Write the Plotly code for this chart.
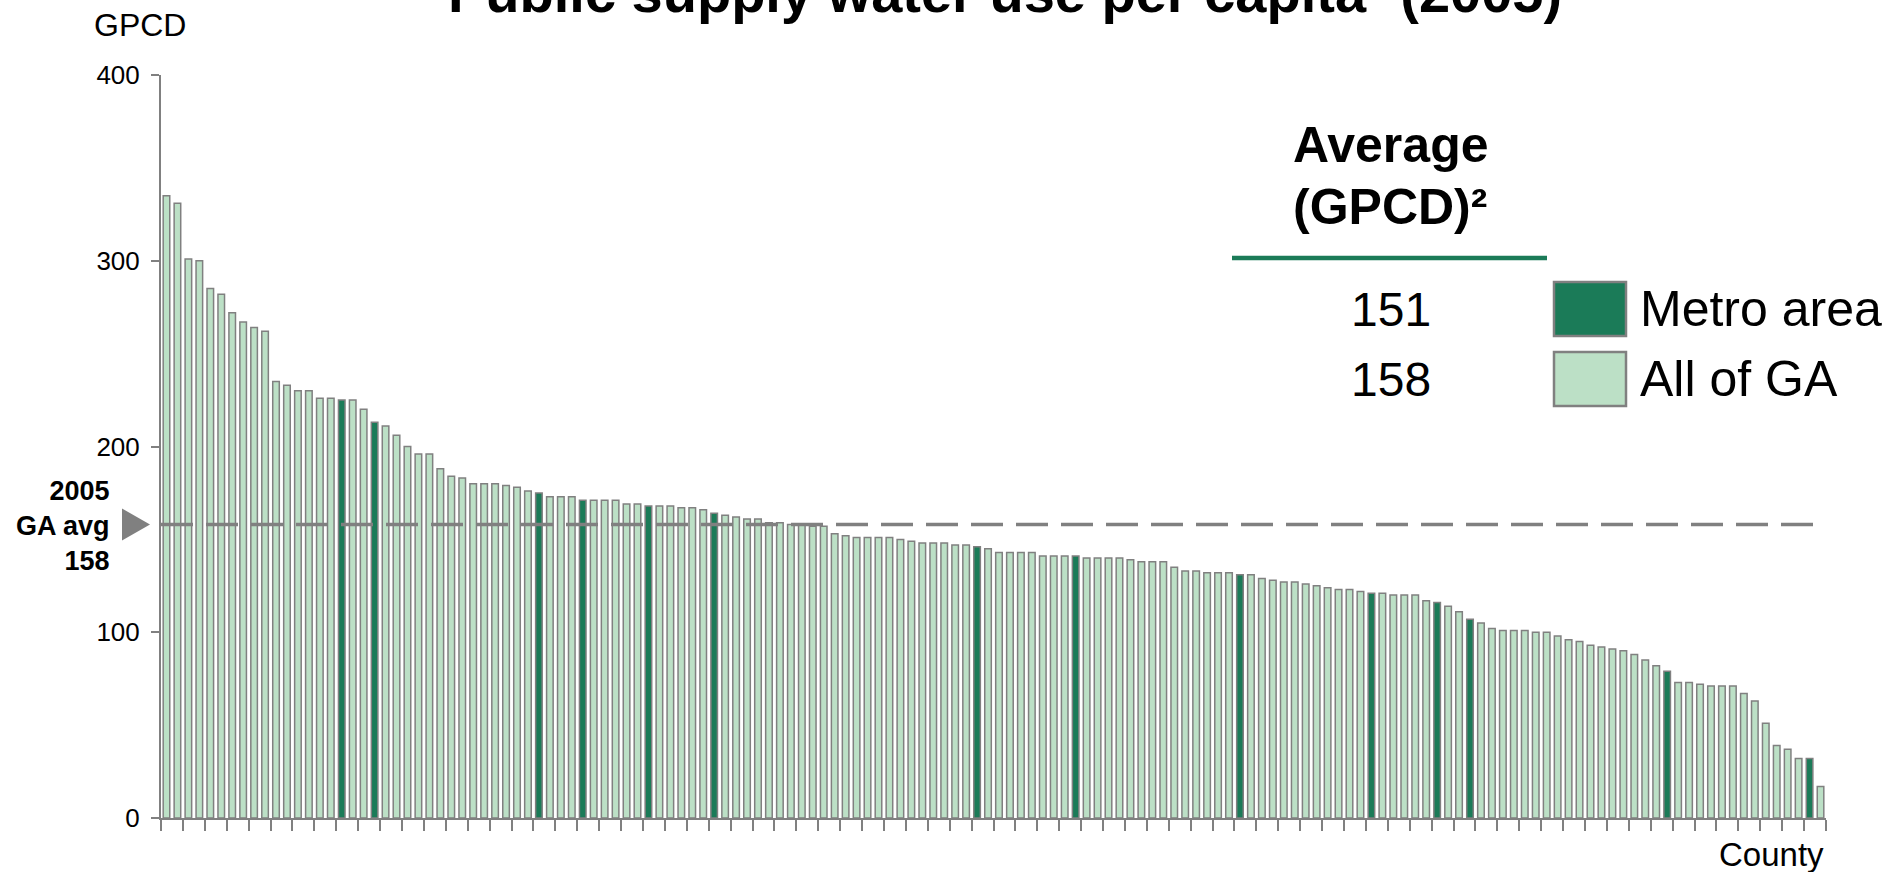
import plotly.graph_objects as go

# ---------------- data ----------------
gpcd = [335, 331, 301, 300, 285, 282, 272, 267, 264, 262,
        235, 233, 230, 230, 226, 226, 225, 225, 220, 213,
        211, 206, 200, 196, 196, 188, 184, 183, 180, 180,
        180, 179, 178, 176, 175, 173, 173, 173, 171, 171,
        171, 171, 169, 169, 168, 168, 168, 167, 167, 166,
        164, 163, 162, 161, 161, 159, 159, 158, 158, 157,
        157, 153, 152, 151, 151, 151, 151, 150, 149, 148,
        148, 148, 147, 147, 146, 145, 143, 143, 143, 143,
        141, 141, 141, 141, 140, 140, 140, 140, 139, 138,
        138, 138, 135, 133, 133, 132, 132, 132, 131, 131,
        129, 128, 127, 127, 126, 125, 124, 123, 123, 122,
        121, 121, 120, 120, 120, 117, 116, 114, 111, 107,
        105, 102, 101, 101, 101, 100, 100, 98, 96, 95,
        93, 92, 91, 90, 88, 85, 82, 79, 73, 73,
        72, 71, 71, 71, 67, 63, 51, 39, 37, 32,
        32, 17]
metro_ranks = [17, 20, 35, 39, 45, 51, 75, 84, 99, 111, 117, 120, 138, 151]
counties = [str(i) for i in range(1, len(gpcd) + 1)]
y_ticks = [0, 100, 200, 300, 400]
ga_avg = 158
metro_avg = 151
avg_values = [metro_avg, ga_avg]
legend_names = ["Metro area", "All of GA"]

# ---------------- style ----------------
W, H = 1900, 872
PL, PR, PT, PB = 161, 1826, 75, 818
LIGHT = "#BCE0C6"
DARK = "#1B7B58"
GRAY = "#808080"
FONT = "Liberation Sans, Arial, sans-serif"


def px(x):
    return (x - PL) / (PR - PL)


def py(y):
    return (PB - y) / (PB - PT)


colors = [DARK if (i + 1) in metro_ranks else LIGHT for i in range(len(gpcd))]

fig = go.Figure()
fig.add_trace(go.Bar(
    x=counties, y=gpcd,
    marker=dict(color=colors, line=dict(color=GRAY, width=1.5)),
    showlegend=False, hoverinfo="x+y",
))

fig.update_layout(
    width=W, height=H,
    margin=dict(l=PL, r=W - PR, t=PT, b=H - PB, pad=0),
    paper_bgcolor="white", plot_bgcolor="white",
    bargap=0.4,
    font=dict(family=FONT, color="black"),
    showlegend=False,
    xaxis=dict(
        type="category", range=[-0.5, len(gpcd) - 0.5],
        showline=True, linecolor=GRAY, linewidth=2,
        ticks="outside", tickson="boundaries", ticklen=11, tickwidth=1.5, tickcolor=GRAY,
        showticklabels=False, showgrid=False, zeroline=False,
    ),
    yaxis=dict(
        range=[0, 400], tickvals=y_ticks,
        showline=True, linecolor=GRAY, linewidth=2,
        ticks="outside", ticklen=8, tickwidth=1.5, tickcolor=GRAY,
        tickfont=dict(size=26, family=FONT, color="black"),
        ticklabelstandoff=6,
        showgrid=False, zeroline=False,
    ),
)

# average dashed line
fig.add_shape(type="line", xref="paper", yref="y", x0=0, x1=1, y0=ga_avg, y1=ga_avg,
              line=dict(color=GRAY, width=3.3, dash="32px,13px"), layer="above")

# triangle marker pointing at the average
unit = (PB - PT) / 400.0
ty = PB - ga_avg * unit
fig.add_shape(type="path", xref="paper", yref="paper",
              path=f"M {px(122)},{py(ty - 16)} L {px(150)},{py(ty)} L {px(122)},{py(ty + 16)} Z",
              fillcolor=GRAY, line=dict(width=0), layer="above")

annotations = []


def ann(text, x, y, size, xanchor="center", bold=False, align="center"):
    t = f"<b>{text}</b>" if bold else text
    annotations.append(dict(text=t, x=px(x), y=py(y), xref="paper", yref="paper",
                            xanchor=xanchor, yanchor="middle", align=align,
                            showarrow=False, font=dict(size=size, family=FONT, color="black")))


# title (cut off at top like the original)
ann("Public supply water use per capita¹ (2005)", 1005, -8, 56, bold=True)
# y-axis unit
ann("GPCD", 140, 25, 32)
# x-axis label
ann("County", 1826, 854, 33, xanchor="right")
# GA average label
ann(f"2005<br>GA avg<br>{ga_avg}", 112, ty + 1, 27, xanchor="right", bold=True, align="right")

# averages table
ann("Average", 1390, 145, 50, bold=True)
ann("(GPCD)²", 1390, 207, 50, bold=True)
fig.add_shape(type="line", xref="paper", yref="paper", x0=px(1232), x1=px(1547), y0=py(258), y1=py(258),
              line=dict(color=DARK, width=4.5))
row_y = [309, 379]
box_fill = [DARK, LIGHT]
for val, name, yy, fc in zip(avg_values, legend_names, row_y, box_fill):
    ann(str(val), 1391, yy, 48)
    fig.add_shape(type="rect", xref="paper", yref="paper",
                  x0=px(1554), x1=px(1626), y0=py(yy - 27), y1=py(yy + 27),
                  fillcolor=fc, line=dict(color=GRAY, width=2.5))
    ann(name, 1638, yy, 50, xanchor="left")

fig.update_layout(annotations=annotations)
fig.write_html("out.html", config={"displayModeBar": False},
               post_script="document.body.style.margin='0px';document.body.style.overflow='hidden';")
